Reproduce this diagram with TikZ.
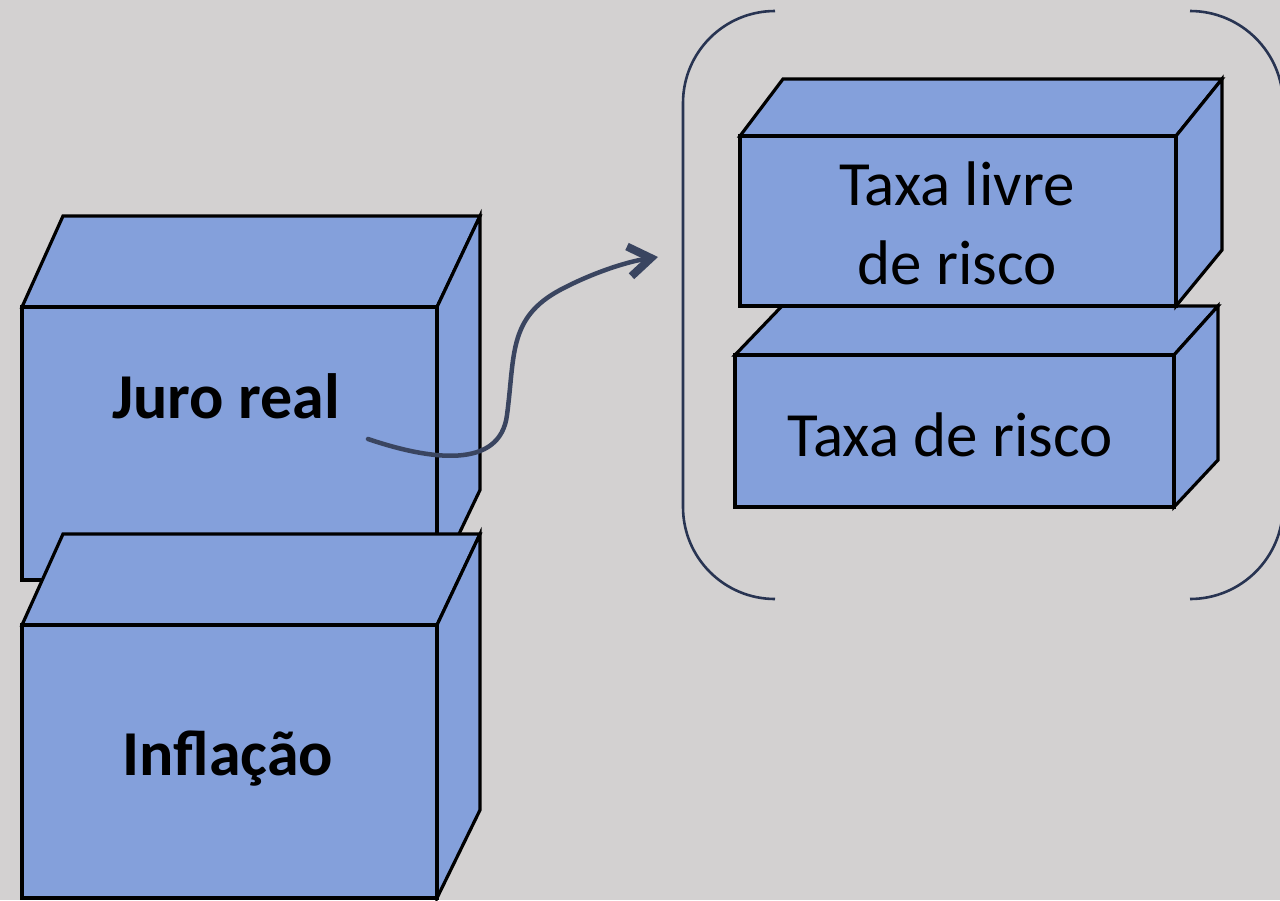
\documentclass[tikz,border=0pt]{standalone}
\usepackage{fontspec}
\setmainfont{Carlito}
\usetikzlibrary{arrows.meta}
\definecolor{bgcol}{RGB}{211,209,209}
\definecolor{boxfill}{RGB}{132,160,219}
\definecolor{arrowcol}{RGB}{58,69,96}
\definecolor{brackcol}{RGB}{40,52,82}
\tikzset{
  face/.style={fill=boxfill, draw=black, line width=3.2pt, line join=miter},
  boldlabel/.style={font=\fontsize{64}{78}\selectfont\bfseries, text=black, inner sep=0pt, anchor=base},
  plainlabel/.style={font=\fontsize{63}{79}\selectfont, text=black, inner sep=0pt, anchor=base, align=center},
  bracket/.style={draw=brackcol, line width=2.6pt},
  link/.style={draw=arrowcol, line width=4.5pt, line cap=round, -{Straight Barb[length=22pt, width=30pt, line width=8pt]}}
}
\begin{document}
\begin{tikzpicture}[x=1pt, y=-1pt]
\useasboundingbox (0,0) rectangle (1280,900);
\fill[bgcol] (0,0) rectangle (1280,900);
\clip (0,0) rectangle (1280,900);

% Juro real cuboid
\path[face] (22,307) -- (63,216) -- (480,216) -- (437,307) -- cycle;
\path[face] (437,307) -- (480,216) -- (480,490) -- (437,580) -- cycle;
\path[face] (22,307) rectangle (437,580);
\node[boldlabel] (juro) at (226,418) {Juro real};

% Inflacao cuboid
\path[face] (22,625) -- (63,534) -- (480,534) -- (437,625) -- cycle;
\path[face] (437,625) -- (480,534) -- (480,810) -- (437,898) -- cycle;
\path[face] (22,625) rectangle (437,898);
\node[boldlabel] (inflacao) at (228,775) {Inflação};

% Taxa de risco cuboid
\path[face] (735,355) -- (782,306) -- (1218,306) -- (1174,355) -- cycle;
\path[face] (1174,355) -- (1218,306) -- (1218,460) -- (1174,507) -- cycle;
\path[face] (735,355) rectangle (1174,507);
\node[plainlabel] (risco) at (950,456) {Taxa de risco};

% Taxa livre de risco cuboid
\path[face] (740,136) -- (783,79) -- (1222,79) -- (1176,136) -- cycle;
\path[face] (1176,136) -- (1222,79) -- (1222,250) -- (1176,306) -- cycle;
\path[face] (740,136) rectangle (1176,306);
\node[plainlabel] (livre) at (957,205) {Taxa livre};
\node[plainlabel] (livre2) at (957,284) {de risco};

% brackets
\draw[bracket] (775,11) arc[start angle=270, end angle=180, radius=92] -- (683,507) arc[start angle=180, end angle=90, radius=92];
\draw[bracket] (1190,11) arc[start angle=270, end angle=360, radius=93] -- (1283,506) arc[start angle=0, end angle=90, radius=93];

% arrow
\coordinate (astart) at (368,439);
\coordinate (aend) at (658,257);
\draw[link] (astart) .. controls (430,460) and (500,470) .. (507,415)
  .. controls (515,355) and (508,318) .. (560,290)
  .. controls (590,274) and (625,262) .. (aend);
\end{tikzpicture}
\end{document}
